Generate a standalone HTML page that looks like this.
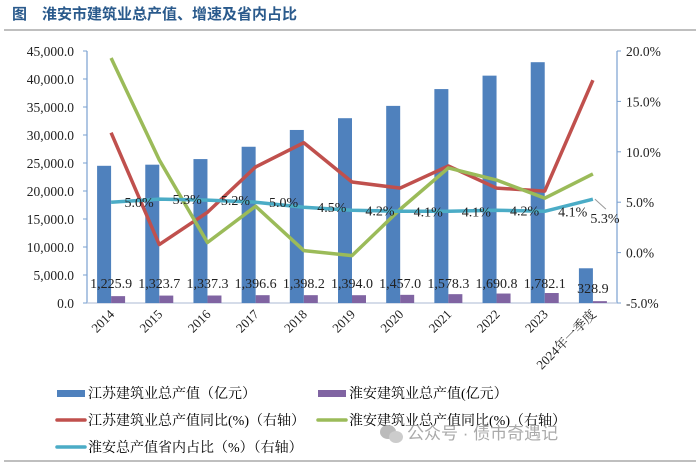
<!DOCTYPE html>
<html><head><meta charset="utf-8">
<style>
body{margin:0;background:#fff;}
svg text{font-family:"Liberation Serif","Noto Serif CJK SC",serif;}
</style></head>
<body>
<svg id="c" width="700" height="464" xmlns="http://www.w3.org/2000/svg">
<text x="12" y="19" font-size="15" font-weight="bold" fill="#2a5a8c" style="font-family:'Liberation Sans','Noto Sans CJK SC',sans-serif">图　淮安市建筑业总产值、增速及省内占比</text>
<line x1="4" y1="30" x2="696" y2="30" stroke="#999" stroke-width="1.2"/>
<line x1="4" y1="461" x2="696" y2="461" stroke="#999" stroke-width="1.2"/>
<g id="plot"></g>
<g id="legend">
<rect x="57" y="390" width="28" height="7" fill="#4f81bd"/>
<text x="88" y="398" font-size="14">江苏建筑业总产值（亿元）</text>
<rect x="318" y="390" width="28" height="7" fill="#8064a2"/>
<text x="349" y="398" font-size="14">淮安建筑业总产值(亿元）</text>
<line x1="57" y1="420" x2="85" y2="420" stroke="#c0504d" stroke-width="3.5" stroke-linecap="round"/>
<text x="88" y="425" font-size="14">江苏建筑业总产值同比(%)（右轴）</text>
<line x1="318" y1="420" x2="346" y2="420" stroke="#9bbb59" stroke-width="3.5" stroke-linecap="round"/>
<text x="349" y="425" font-size="14">淮安建筑业总产值同比(%)（右轴）</text>
<line x1="57" y1="447" x2="85" y2="447" stroke="#4bacc6" stroke-width="3.5" stroke-linecap="round"/>
<text x="88" y="452" font-size="14">淮安总产值省内占比（%）（右轴）</text>
</g>
<g>
<ellipse cx="388" cy="432" rx="8" ry="7" fill="#bbb"/>
<ellipse cx="396" cy="437" rx="7" ry="6" fill="#ccc"/>
<text x="407" y="439" font-size="17" fill="#aaa" style="font-family:'Liberation Sans','Noto Sans CJK SC',sans-serif">公众号 · 债市奇遇记</text>
</g>
</svg>
<script>
const categories=["2014","2015","2016","2017","2018","2019","2020","2021","2022","2023","2024年一季度"];
const jiangsuOutput=[24500,24700,25700,27900,30900,33000,35200,38200,40600,43000,6200];
const huaianOutput=[1225.9,1323.7,1337.3,1396.6,1398.2,1394.0,1457.0,1578.3,1690.8,1782.1,328.9];
const jiangsuGrowth=[11.9,0.8,4.0,8.5,10.9,7.0,6.4,8.6,6.4,6.1,17.1];
const huaianGrowth=[19.3,9.2,1.0,4.6,0.2,-0.3,4.3,8.4,7.2,5.4,7.8];
const huaianShare=[5.0,5.3,5.2,5.0,4.5,4.2,4.1,4.1,4.2,4.1,5.3];
const leftTicks=[0,5000,10000,15000,20000,25000,30000,35000,40000,45000];
const rightTicks=[-5,0,5,10,15,20];

const NS="http://www.w3.org/2000/svg";
const g=document.getElementById('plot');
const L=87,R=617,T=51,B=303;
const band=(R-L)/categories.length;
const xc=i=>L+band*(i+0.5);
const yL=v=>B-(v/45000)*(B-T);
const yR=v=>B-((v+5)/25)*(B-T);
function mk(tag,attrs){const e=document.createElementNS(NS,tag);for(const k in attrs)e.setAttribute(k,attrs[k]);g.appendChild(e);return e;}
const fmt=v=>v.toLocaleString('en-US',{minimumFractionDigits:1,maximumFractionDigits:1});

let e=mk('line',{x1:L,y1:T,x2:L,y2:B,stroke:'#7aa0d0','stroke-width':1.2});


e=mk('line',{x1:R,y1:T,x2:R,y2:B,stroke:'#7aa0d0','stroke-width':1.2});


e=mk('line',{x1:L,y1:B,x2:R,y2:B,stroke:'#bcc8dc','stroke-width':1.2});


leftTicks.forEach(v=>{
  mk('line',{x1:L-4,y1:yL(v),x2:L,y2:yL(v),stroke:'#7aa0d0'});
  e=mk('text',{x:L-13,y:yL(v)+5,'font-size':13.5,'text-anchor':'end',fill:'#222'});
  e.textContent=fmt(v);
  
  
});
rightTicks.forEach(v=>{
  mk('line',{x1:R,y1:yR(v),x2:R+4,y2:yR(v),stroke:'#7aa0d0'});
  e=mk('text',{x:R+9,y:yR(v)+5,'font-size':13.5,fill:'#222'});
  e.textContent=v.toFixed(1)+'%';
  
  
});
categories.forEach((c,i)=>{
  const x=xc(i);
  e=mk('rect',{x:x-14,y:yL(jiangsuOutput[i]),width:14,height:B-yL(jiangsuOutput[i]),fill:'#4f81bd'});
  
  
  e=mk('rect',{x:x,y:yL(huaianOutput[i]),width:14,height:B-yL(huaianOutput[i]),fill:'#8064a2'});
  
  
  e=mk('text',{x:x,y:i==categories.length-1?293:288,'font-size':14,'text-anchor':'middle',fill:'#222'});
  e.textContent=fmt(huaianOutput[i]);
  
  
  e=mk('text',{transform:`translate(${x+4},${B+12}) rotate(-45)`,'font-size':13,'text-anchor':'end',fill:'#222'});
  e.textContent=c;
  
  
});
function line(arr,color,name){
  const p=mk('polyline',{points:arr.map((v,i)=>xc(i)+','+yR(v)).join(' '),fill:'none',stroke:color,'stroke-width':3.5,'stroke-linejoin':'round'});
  
  
}
line(jiangsuGrowth,'#c0504d','line-jiangsu-growth');
line(huaianGrowth,'#9bbb59','line-huaian-growth');
line(huaianShare,'#4bacc6','line-huaian-share');
huaianShare.forEach((v,i)=>{
  const last=i==huaianShare.length-1;
  if(last){mk('line',{x1:xc(i)+2,y1:yR(v),x2:xc(i)+13,y2:yR(v)+10,stroke:'#999'});}
  e=mk('text',{x:last?xc(i)+12:xc(i)+28,y:last?yR(v)+24:yR(v)+5,'font-size':14,'text-anchor':'middle',fill:'#222'});
  e.textContent=v.toFixed(1)+'%';
  
  
});
</script>
</body></html>
